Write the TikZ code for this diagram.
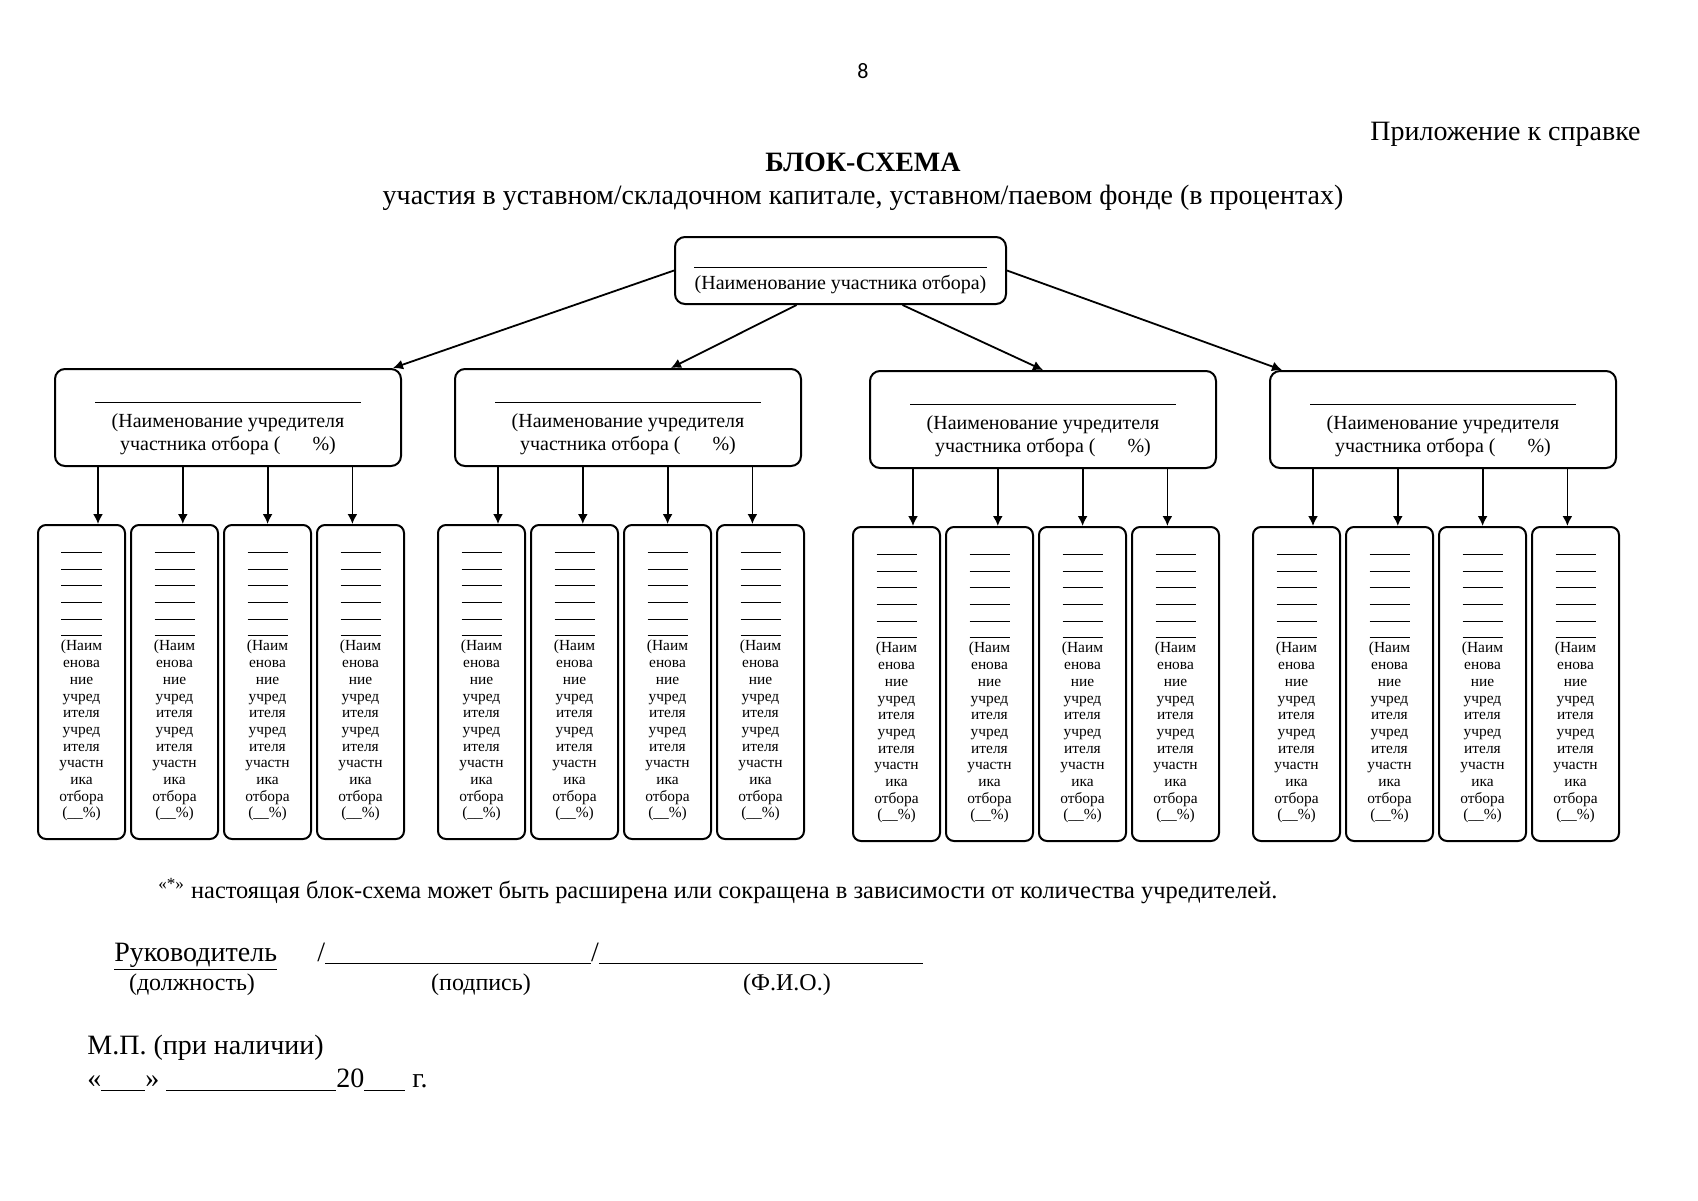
\documentclass[tikz,border=0pt]{standalone}
\usepackage{fontspec}
\setmainfont{Liberation Serif}
\newfontfamily\pagenumfont{Carlito}
\usetikzlibrary{arrows.meta}

\begin{document}
\begin{tikzpicture}[x=0.5pt,y=-0.5pt,
    txt/.style={inner sep=0pt},
    box/.style={draw,line width=1pt,rounded corners=5pt,align=center,inner sep=0pt},
    mainbox/.style={box,minimum width=165.5pt,minimum height=33.5pt,font=\fontsize{10}{11}\selectfont},
    founder/.style={box,minimum width=173pt,minimum height=48.5pt,font=\fontsize{10}{11.5}\selectfont},
    holder/.style={box,rounded corners=4pt,minimum width=43.5pt,minimum height=157pt,font=\fontsize{7.7}{8.35}\selectfont},
    link/.style={line width=0.9pt,-{Latex[length=5pt,width=5pt]}}]
    \fill[white] (0,0) rectangle (1698,1200);
    \useasboundingbox (0,0) rectangle (1698,1200);

    % header
    \node[font=\pagenumfont\fontsize{11}{13}\selectfont] (pagenum) at (863,71) {8};
    \node[txt,anchor=base east,font=\fontsize{14}{16}\selectfont] (annex) at (1641,140) {Приложение к справке};
    \node[txt,anchor=base,font=\fontsize{14}{16}\selectfont\bfseries] (title) at (863,171) {БЛОК-СХЕМА};
    \node[txt,anchor=base,font=\fontsize{14}{16}\selectfont] (subtitle) at (863,204)
        {участия в уставном/складочном капитале, уставном/паевом фонде (в процентах)};

    % participant
    \node[mainbox] (member) at (840.5,270.5)
        {\rule{0pt}{10.2pt}\rule{146.5pt}{0.4pt}\\(Наименование участника отбора)};

    % founders and their founders
    \foreach \g/\gx/\gy in {1/0/0,2/400/0,3/815/2,4/1215/2} {
        \node[founder] (f\g) at (\gx+228,\gy+417.5)
            {\rule{0pt}{11.2pt}\rule{133pt}{0.4pt}\\[1pt](Наименование учредителя\\участника отбора (\hspace{1.6em}\%)};
        \foreach \i in {1,...,4} {
            \node[holder] (h\g\i) at (\gx+81.5+93*\i-93,\gy+682)
                {\rule{0pt}{4pt}\rule[-1pt]{20pt}{0.4pt}\\\rule[-1pt]{20pt}{0.4pt}\\\rule[-1pt]{20pt}{0.4pt}\\
                 \rule[-1pt]{20pt}{0.4pt}\\\rule[-1pt]{20pt}{0.4pt}\\\rule[-1pt]{20pt}{0.4pt}\\
                 (Наим\\енова\\ние\\учред\\ителя\\учред\\ителя\\участн\\ика\\отбора\\(\_\_\%)};
            \draw[link] ([xshift=-65pt+42.4pt*\i-42.4pt]f\g.south)
                -- ([xshift=-65pt+42.4pt*\i-42.4pt]f\g.south |- h\g\i.north);
        }
    }

    \draw[link] (member.west) -- ([xshift=-4.5pt]f1.north east);
    \draw[link] ([xshift=-22pt]member.south) -- ([xshift=21.5pt]f2.north);
    \draw[link] ([xshift=31pt]member.south) -- (f3.north);
    \draw[link] (member.east) -- ([xshift=6.5pt]f4.north west);

    % footer
    \node[txt,anchor=base west,font=\fontsize{12.2}{14}\selectfont] (note) at (158,898)
        {\textsuperscript{«*»} настоящая блок-схема может быть расширена или сокращена в зависимости от количества учредителей.};
    \node[txt,anchor=base west,font=\fontsize{14}{16}\selectfont] (head) at (114,961) {\underline{Руководитель}};
    \node[txt,anchor=base west,font=\fontsize{14}{16}\selectfont] (sign) at (317,961)
        {/\rule[-1.5pt]{133pt}{0.6pt}/\rule[-1.5pt]{162pt}{0.6pt}};
    \node[txt,anchor=base,font=\fontsize{12}{14}\selectfont] (post) at (192,990) {(должность)};
    \node[txt,anchor=base,font=\fontsize{12}{14}\selectfont] (signature) at (481,990) {(подпись)};
    \node[txt,anchor=base,font=\fontsize{12}{14}\selectfont] (fio) at (787,990) {(Ф.И.О.)};
    \node[txt,anchor=base west,font=\fontsize{14}{16}\selectfont] (seal) at (87,1054) {М.П. (при наличии)};
    \node[txt,anchor=base west,font=\fontsize{14}{16}\selectfont] (date) at (87,1087)
        {«\rule[-2pt]{22pt}{0.6pt}» \rule[-2pt]{85pt}{0.6pt}20\rule[-2pt]{20.5pt}{0.6pt} г.};
\end{tikzpicture}
\end{document}
